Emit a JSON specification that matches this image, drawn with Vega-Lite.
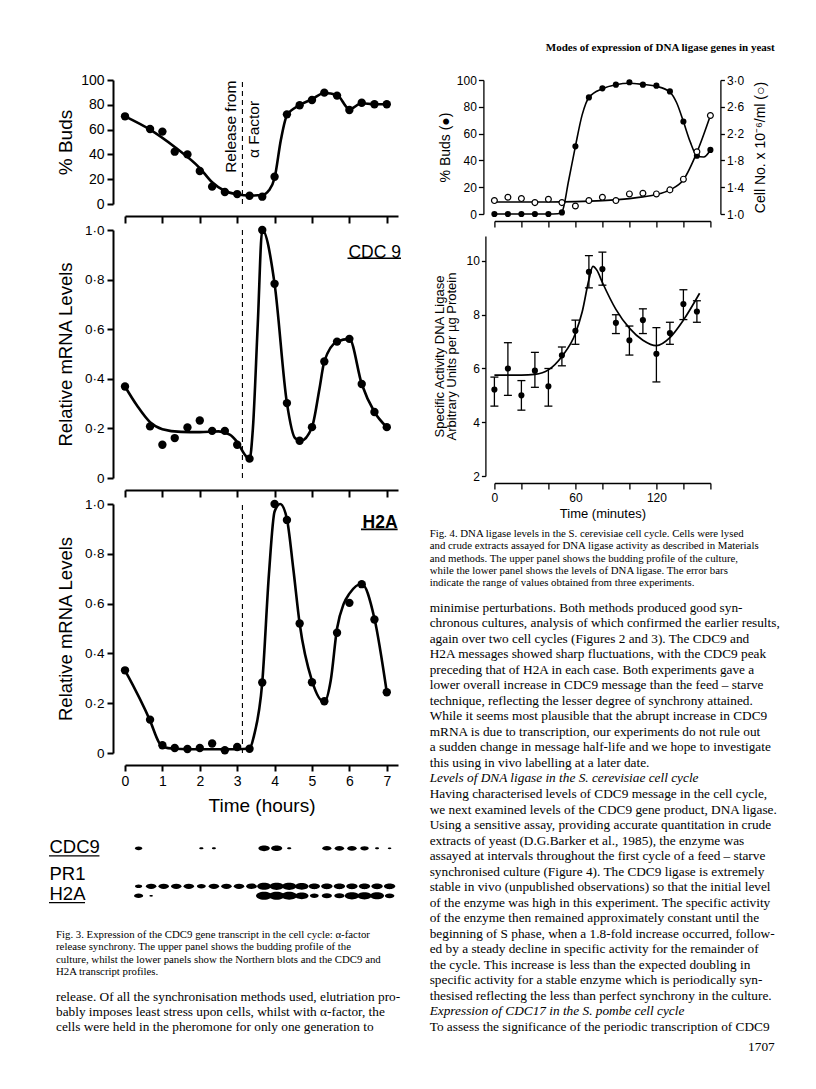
{
  "$schema": "https://vega.github.io/schema/vega-lite/v6.json",
  "background": "white",
  "padding": {"left": 48, "top": 42, "right": 2, "bottom": 2},
  "title": {"text": "Modes of expression of DNA ligase genes in yeast", "anchor": "end", "frame": "bounds", "font": "Liberation Serif", "fontSize": 11, "fontWeight": "bold", "color": "black", "offset": 20, "dx": -5},
  "config": {
    "view": {"stroke": null},
    "font": "Liberation Sans",
    "axis": {"grid": false, "domainColor": "black", "tickColor": "black", "labelColor": "black", "titleColor": "black", "labelFont": "Liberation Sans", "titleFont": "Liberation Sans", "titleFontWeight": "normal", "labelFlush": false, "labelOverlap": false}
  },
  "datasets": {
    "buds3": [{"t":0,"v":70.7},{"t":0.67,"v":60.5},{"t":1,"v":58.4},{"t":1.33,"v":42.2},{"t":1.67,"v":40},{"t":2,"v":26.6},{"t":2.33,"v":14},{"t":2.67,"v":9.7},{"t":3,"v":8},{"t":3.33,"v":6.7},{"t":3.67,"v":5.9},{"t":4,"v":22},{"t":4.33,"v":72.3},{"t":4.67,"v":79.6},{"t":5,"v":83.9},{"t":5.33,"v":89.8},{"t":5.67,"v":87.4},{"t":6,"v":75.8},{"t":6.33,"v":81.7},{"t":6.67,"v":80.4},{"t":7,"v":80.4}],
    "buds3Curve": [{"t":0,"v":70.7},{"t":0.67,"v":60},{"t":1.33,"v":46},{"t":2,"v":29},{"t":2.33,"v":17.5},{"t":2.67,"v":10.5},{"t":3,"v":7.8},{"t":3.33,"v":6.8},{"t":3.67,"v":7.2},{"t":3.85,"v":11},{"t":4,"v":21},{"t":4.17,"v":52},{"t":4.33,"v":71.5},{"t":4.67,"v":79.8},{"t":5,"v":84.5},{"t":5.33,"v":89.5},{"t":5.67,"v":88},{"t":6,"v":76.5},{"t":6.33,"v":81.2},{"t":6.67,"v":80.4},{"t":7,"v":80.4}],
    "releaseBuds": [{"t":3.14,"v":0,"v2":100}],
    "releaseMrna": [{"t":3.14,"v":0,"v2":1}],
    "budsNotes": [{"t":2.83,"v":62.3,"label":"Release from"},{"t":3.45,"v":60.1,"label":"α Factor"}],
    "cdc9Note": [{"t":7.38,"v":0.908,"label":"CDC 9"}],
    "cdc9Underline": [{"t":5.95,"t2":7.38,"v":0.886}],
    "h2aNote": [{"t":7.29,"v":0.925,"label":"H2A"}],
    "h2aUnderline": [{"t":6.31,"t2":7.29,"v":0.898}],
    "cdc9": [{"t":0,"v":0.369},{"t":0.67,"v":0.208},{"t":1,"v":0.134},{"t":1.33,"v":0.161},{"t":1.67,"v":0.204},{"t":2,"v":0.232},{"t":2.33,"v":0.19},{"t":2.67,"v":0.19},{"t":3,"v":0.134},{"t":3.33,"v":0.078},{"t":3.67,"v":1.0},{"t":4,"v":0.783},{"t":4.33,"v":0.302},{"t":4.67,"v":0.15},{"t":5,"v":0.205},{"t":5.33,"v":0.47},{"t":5.67,"v":0.55},{"t":6,"v":0.561},{"t":6.33,"v":0.379},{"t":6.67,"v":0.266},{"t":7,"v":0.205}],
    "cdc9Curve": [{"t":0,"v":0.369},{"t":0.33,"v":0.29},{"t":0.67,"v":0.225},{"t":1,"v":0.197},{"t":1.5,"v":0.186},{"t":2,"v":0.185},{"t":2.5,"v":0.188},{"t":2.8,"v":0.175},{"t":3,"v":0.145},{"t":3.2,"v":0.095},{"t":3.33,"v":0.075},{"t":3.42,"v":0.2},{"t":3.55,"v":0.62},{"t":3.67,"v":1.0},{"t":4,"v":0.783},{"t":4.33,"v":0.302},{"t":4.55,"v":0.16},{"t":4.7,"v":0.15},{"t":5,"v":0.205},{"t":5.2,"v":0.36},{"t":5.33,"v":0.47},{"t":5.67,"v":0.55},{"t":6,"v":0.561},{"t":6.33,"v":0.379},{"t":6.67,"v":0.266},{"t":7,"v":0.205}],
    "h2a": [{"t":0,"v":0.332},{"t":0.67,"v":0.134},{"t":1,"v":0.031},{"t":1.33,"v":0.02},{"t":1.67,"v":0.016},{"t":2,"v":0.02},{"t":2.33,"v":0.038},{"t":2.67,"v":0.011},{"t":3,"v":0.024},{"t":3.33,"v":0.017},{"t":3.67,"v":0.283},{"t":4,"v":1.0},{"t":4.33,"v":0.936},{"t":4.67,"v":0.52},{"t":5,"v":0.284},{"t":5.33,"v":0.208},{"t":5.67,"v":0.483},{"t":6,"v":0.603},{"t":6.33,"v":0.678},{"t":6.67,"v":0.536},{"t":7,"v":0.244}],
    "h2aCurve": [{"t":0,"v":0.332},{"t":0.67,"v":0.13},{"t":0.9,"v":0.045},{"t":1,"v":0.025},{"t":1.33,"v":0.017},{"t":2,"v":0.015},{"t":3,"v":0.015},{"t":3.33,"v":0.018},{"t":3.45,"v":0.07},{"t":3.67,"v":0.283},{"t":3.85,"v":0.72},{"t":4,"v":0.97},{"t":4.15,"v":1.0},{"t":4.33,"v":0.94},{"t":4.5,"v":0.74},{"t":4.67,"v":0.52},{"t":5,"v":0.29},{"t":5.33,"v":0.205},{"t":5.5,"v":0.29},{"t":5.67,"v":0.5},{"t":5.85,"v":0.6},{"t":6,"v":0.64},{"t":6.33,"v":0.68},{"t":6.67,"v":0.54},{"t":7,"v":0.244}],
    "blot": [
      {"lane":1,"probe":"CDC9","mobility":1,"signal":0.22},{"lane":6,"probe":"CDC9","mobility":1,"signal":0.07},{"lane":7,"probe":"CDC9","mobility":1,"signal":0.06},{"lane":11,"probe":"CDC9","mobility":1,"signal":0.5},{"lane":12,"probe":"CDC9","mobility":1,"signal":0.48},{"lane":13,"probe":"CDC9","mobility":1,"signal":0.07},{"lane":16,"probe":"CDC9","mobility":1,"signal":0.32},{"lane":17,"probe":"CDC9","mobility":1,"signal":0.34},{"lane":18,"probe":"CDC9","mobility":1,"signal":0.34},{"lane":19,"probe":"CDC9","mobility":1,"signal":0.28},{"lane":20,"probe":"CDC9","mobility":1,"signal":0.06},{"lane":21,"probe":"CDC9","mobility":1,"signal":0.05},
      {"lane":1,"probe":"PR1","mobility":2,"signal":0.2},{"lane":2,"probe":"PR1","mobility":2,"signal":0.42},{"lane":3,"probe":"PR1","mobility":2,"signal":0.42},{"lane":4,"probe":"PR1","mobility":2,"signal":0.42},{"lane":5,"probe":"PR1","mobility":2,"signal":0.42},{"lane":6,"probe":"PR1","mobility":2,"signal":0.3},{"lane":7,"probe":"PR1","mobility":2,"signal":0.42},{"lane":8,"probe":"PR1","mobility":2,"signal":0.42},{"lane":9,"probe":"PR1","mobility":2,"signal":0.42},{"lane":10,"probe":"PR1","mobility":2,"signal":0.45},{"lane":11,"probe":"PR1","mobility":2,"signal":0.75},{"lane":12,"probe":"PR1","mobility":2,"signal":0.8},{"lane":13,"probe":"PR1","mobility":2,"signal":0.8},{"lane":14,"probe":"PR1","mobility":2,"signal":0.7},{"lane":15,"probe":"PR1","mobility":2,"signal":0.5},{"lane":16,"probe":"PR1","mobility":2,"signal":0.5},{"lane":17,"probe":"PR1","mobility":2,"signal":0.5},{"lane":18,"probe":"PR1","mobility":2,"signal":0.5},{"lane":19,"probe":"PR1","mobility":2,"signal":0.5},{"lane":20,"probe":"PR1","mobility":2,"signal":0.5},{"lane":21,"probe":"PR1","mobility":2,"signal":0.5},
      {"lane":1,"probe":"H2A","mobility":2.25,"signal":0.32},{"lane":2,"probe":"H2A","mobility":2.25,"signal":0.05},{"lane":11,"probe":"H2A","mobility":2.25,"signal":1.0},{"lane":12,"probe":"H2A","mobility":2.25,"signal":1.0},{"lane":13,"probe":"H2A","mobility":2.25,"signal":0.95},{"lane":14,"probe":"H2A","mobility":2.25,"signal":0.7},{"lane":15,"probe":"H2A","mobility":2.25,"signal":0.3},{"lane":16,"probe":"H2A","mobility":2.25,"signal":0.4},{"lane":17,"probe":"H2A","mobility":2.25,"signal":0.4},{"lane":18,"probe":"H2A","mobility":2.25,"signal":0.8},{"lane":19,"probe":"H2A","mobility":2.25,"signal":0.8},{"lane":20,"probe":"H2A","mobility":2.25,"signal":0.75},{"lane":21,"probe":"H2A","mobility":2.25,"signal":0.35}
    ],
    "blotUnderline": [{"lane":-6.14,"lane2":-2.12,"mobility":1.2},{"lane":-6.14,"lane2":-3.27,"mobility":2.43}],
    "cap3": [
      {"line":1,"text":"Fig. 3. Expression of the CDC9 gene transcript in the cell cycle: α-factor"},
      {"line":2,"text":"release synchrony. The upper panel shows the budding profile of the"},
      {"line":3,"text":"culture, whilst the lower panels show the Northern blots and the CDC9 and"},
      {"line":4,"text":"H2A transcript profiles."}
    ],
    "body3": [
      {"line":1,"text":"release. Of all the synchronisation methods used, elutriation pro-"},
      {"line":2,"text":"bably imposes least stress upon cells, whilst with α-factor, the"},
      {"line":3,"text":"cells were held in the pheromone for only one generation to"}
    ],
    "f4": [{"t":0,"buds":0,"cells":1.2},{"t":10,"buds":0,"cells":1.25},{"t":20,"buds":0,"cells":1.23},{"t":30,"buds":0,"cells":1.17},{"t":40,"buds":0,"cells":1.22},{"t":50,"buds":1.2,"cells":1.17},{"t":60,"buds":50.5,"cells":1.12},{"t":70,"buds":87,"cells":1.2},{"t":80,"buds":93.8,"cells":1.25},{"t":90,"buds":96.5,"cells":1.2},{"t":100,"buds":98.3,"cells":1.3},{"t":110,"buds":96.5,"cells":1.31},{"t":120,"buds":95.8,"cells":1.3},{"t":130,"buds":91.5,"cells":1.36},{"t":140,"buds":69,"cells":1.52},{"t":150,"buds":43.5,"cells":1.93},{"t":160,"buds":47.8,"cells":2.47}],
    "f4BudsCurve": [{"t":0,"buds":0},{"t":40,"buds":0},{"t":47,"buds":0.2},{"t":50,"buds":1.5},{"t":55,"buds":25},{"t":60,"buds":50.5},{"t":65,"buds":74},{"t":70,"buds":87},{"t":80,"buds":93.5},{"t":90,"buds":96.5},{"t":100,"buds":97.6},{"t":110,"buds":96.7},{"t":120,"buds":95.3},{"t":130,"buds":91},{"t":135,"buds":83},{"t":140,"buds":69},{"t":145,"buds":54},{"t":150,"buds":43.5},{"t":155,"buds":42.5},{"t":160,"buds":47.8}],
    "f4CellsCurve": [{"t":0,"cells":1.18},{"t":40,"cells":1.18},{"t":60,"cells":1.185},{"t":80,"cells":1.2},{"t":100,"cells":1.23},{"t":110,"cells":1.255},{"t":120,"cells":1.29},{"t":130,"cells":1.36},{"t":140,"cells":1.51},{"t":150,"cells":1.92},{"t":160,"cells":2.47}],
    "ligase": [{"t":0,"v":5.22,"lo":4.6,"hi":5.68},{"t":10,"v":6.0,"lo":5.0,"hi":6.96},{"t":20,"v":5.0,"lo":4.45,"hi":5.55},{"t":30,"v":5.92,"lo":5.3,"hi":6.6},{"t":40,"v":5.34,"lo":4.6,"hi":6.0},{"t":50,"v":6.49,"lo":6.1,"hi":6.8},{"t":60,"v":7.4,"lo":6.9,"hi":7.8},{"t":70,"v":9.6,"lo":9.0,"hi":10.2},{"t":80,"v":9.7,"lo":9.1,"hi":10.33},{"t":90,"v":7.7,"lo":7.3,"hi":8.0},{"t":100,"v":7.05,"lo":6.5,"hi":7.58},{"t":110,"v":7.8,"lo":7.3,"hi":8.22},{"t":120,"v":6.55,"lo":5.5,"hi":7.52},{"t":130,"v":7.32,"lo":6.9,"hi":7.72},{"t":140,"v":8.4,"lo":7.82,"hi":8.93},{"t":150,"v":8.12,"lo":7.72,"hi":8.52}],
    "ligaseCurve": [{"t":0,"v":5.75},{"t":20,"v":5.75},{"t":30,"v":5.78},{"t":40,"v":5.95},{"t":50,"v":6.45},{"t":60,"v":7.3},{"t":65,"v":8.1},{"t":70,"v":9.3},{"t":73,"v":9.8},{"t":76,"v":9.65},{"t":80,"v":9.2},{"t":90,"v":8.2},{"t":100,"v":7.5},{"t":110,"v":7.05},{"t":120,"v":6.85},{"t":130,"v":7.15},{"t":140,"v":7.8},{"t":152,"v":8.8}],
    "cap4": [
      {"line":1,"text":"Fig. 4. DNA ligase levels in the S. cerevisiae cell cycle. Cells were lysed"},
      {"line":2,"text":"and crude extracts assayed for DNA ligase activity as described in Materials"},
      {"line":3,"text":"and methods. The upper panel shows the budding profile of the culture,"},
      {"line":4,"text":"while the lower panel shows the levels of DNA ligase. The error bars"},
      {"line":5,"text":"indicate the range of values obtained from three experiments."}
    ],
    "body4": [
      {"line":1,"kind":"body","text":"minimise perturbations. Both methods produced good syn-"},
      {"line":2,"kind":"body","text":"chronous cultures, analysis of which confirmed the earlier results,"},
      {"line":3,"kind":"body","text":"again over two cell cycles (Figures 2 and 3). The CDC9 and"},
      {"line":4,"kind":"body","text":"H2A messages showed sharp fluctuations, with the CDC9 peak"},
      {"line":5,"kind":"body","text":"preceding that of H2A in each case. Both experiments gave a"},
      {"line":6,"kind":"body","text":"lower overall increase in CDC9 message than the feed – starve"},
      {"line":7,"kind":"body","text":"technique, reflecting the lesser degree of synchrony attained."},
      {"line":8,"kind":"body","text":"While it seems most plausible that the abrupt increase in CDC9"},
      {"line":9,"kind":"body","text":"mRNA is due to transcription, our experiments do not rule out"},
      {"line":10,"kind":"body","text":"a sudden change in message half-life and we hope to investigate"},
      {"line":11,"kind":"body","text":"this using in vivo labelling at a later date."},
      {"line":12,"kind":"heading","text":"Levels of DNA ligase in the S. cerevisiae cell cycle"},
      {"line":13,"kind":"body","text":"Having characterised levels of CDC9 message in the cell cycle,"},
      {"line":14,"kind":"body","text":"we next examined levels of the CDC9 gene product, DNA ligase."},
      {"line":15,"kind":"body","text":"Using a sensitive assay, providing accurate quantitation in crude"},
      {"line":16,"kind":"body","text":"extracts of yeast (D.G.Barker et al., 1985), the enzyme was"},
      {"line":17,"kind":"body","text":"assayed at intervals throughout the first cycle of a feed – starve"},
      {"line":18,"kind":"body","text":"synchronised culture (Figure 4). The CDC9 ligase is extremely"},
      {"line":19,"kind":"body","text":"stable in vivo (unpublished observations) so that the initial level"},
      {"line":20,"kind":"body","text":"of the enzyme was high in this experiment. The specific activity"},
      {"line":21,"kind":"body","text":"of the enzyme then remained approximately constant until the"},
      {"line":22,"kind":"body","text":"beginning of S phase, when a 1.8-fold increase occurred, follow-"},
      {"line":23,"kind":"body","text":"ed by a steady decline in specific activity for the remainder of"},
      {"line":24,"kind":"body","text":"the cycle. This increase is less than the expected doubling in"},
      {"line":25,"kind":"body","text":"specific activity for a stable enzyme which is periodically syn-"},
      {"line":26,"kind":"body","text":"thesised reflecting the less than perfect synchrony in the culture."},
      {"line":27,"kind":"heading","text":"Expression of CDC17 in the S. pombe cell cycle"},
      {"line":28,"kind":"body","text":"To assess the significance of the periodic transcription of CDC9"},
      {"line":29,"kind":"page","text":"1707"}
    ]
  },
  "spacing": 27.4,
  "hconcat": [
    {
      "spacing": 26,
      "bounds": "flush",
      "vconcat": [
        {
          "width": 273, "height": 124,
          "encoding": {
            "x": {"field": "t", "type": "quantitative", "scale": {"domain": [0, 7.3], "nice": false}, "axis": {"values": [0,1,2,3,4,5,6,7], "labelExpr": "''", "title": null, "offset": 12, "tickSize": 7, "domainWidth": 2, "tickWidth": 2}},
            "y": {"field": "v", "type": "quantitative", "scale": {"domain": [0, 100], "nice": false}, "axis": {"values": [0,20,40,60,80,100], "title": "% Buds", "offset": 12, "tickSize": 6, "labelPadding": 3, "labelFontSize": 14, "titleFontSize": 19, "titlePadding": 5, "domainWidth": 2, "tickWidth": 2}}
          },
          "layer": [
            {"data": {"name": "releaseBuds"}, "mark": {"type": "rule", "strokeDash": [5, 4], "strokeWidth": 1.1, "color": "black"}, "encoding": {"y2": {"field": "v2"}}},
            {"data": {"name": "buds3Curve"}, "mark": {"type": "line", "interpolate": "monotone", "color": "black", "strokeWidth": 2.6}},
            {"data": {"name": "buds3"}, "mark": {"type": "circle", "size": 70, "color": "black", "opacity": 1}},
            {"data": {"name": "budsNotes"}, "mark": {"type": "text", "angle": 270, "align": "center", "baseline": "middle", "fontSize": 15.5, "color": "black"}, "encoding": {"text": {"field": "label"}}}
          ]
        },
        {
          "width": 273, "height": 248,
          "encoding": {
            "x": {"field": "t", "type": "quantitative", "scale": {"domain": [0, 7.3], "nice": false}, "axis": {"values": [0,1,2,3,4,5,6,7], "labelExpr": "''", "title": null, "offset": 12, "tickSize": 7, "domainWidth": 2, "tickWidth": 2}},
            "y": {"field": "v", "type": "quantitative", "scale": {"domain": [0, 1], "nice": false}, "axis": {"values": [0,0.2,0.4,0.6,0.8,1], "labelExpr": "datum.value == 0 ? '0' : replace(format(datum.value, '.1f'), '.', '·')", "title": "Relative mRNA Levels", "offset": 12, "tickSize": 6, "labelPadding": 3, "labelFontSize": 13.5, "titleFontSize": 18.5, "titlePadding": 9, "domainWidth": 2, "tickWidth": 2}}
          },
          "layer": [
            {"data": {"name": "releaseMrna"}, "mark": {"type": "rule", "strokeDash": [5, 4], "strokeWidth": 1.1, "color": "black"}, "encoding": {"y2": {"field": "v2"}}},
            {"data": {"name": "cdc9Curve"}, "mark": {"type": "line", "interpolate": "monotone", "color": "black", "strokeWidth": 2.6}},
            {"data": {"name": "cdc9"}, "mark": {"type": "circle", "size": 70, "color": "black", "opacity": 1}},
            {"data": {"name": "cdc9Note"}, "mark": {"type": "text", "align": "right", "baseline": "middle", "fontSize": 17.5, "color": "black"}, "encoding": {"text": {"field": "label"}}},
            {"data": {"name": "cdc9Underline"}, "mark": {"type": "rule", "strokeWidth": 1.6, "color": "black"}, "encoding": {"x2": {"field": "t2"}}}
          ]
        },
        {
          "width": 273, "height": 249,
          "encoding": {
            "x": {"field": "t", "type": "quantitative", "scale": {"domain": [0, 7.3], "nice": false}, "axis": {"values": [0,1,2,3,4,5,6,7], "title": "Time (hours)", "offset": 12, "tickSize": 6, "labelPadding": 3, "labelFontSize": 14, "titleFontSize": 19, "titlePadding": 8, "domainWidth": 2, "tickWidth": 2}},
            "y": {"field": "v", "type": "quantitative", "scale": {"domain": [0, 1], "nice": false}, "axis": {"values": [0,0.2,0.4,0.6,0.8,1], "labelExpr": "datum.value == 0 ? '0' : replace(format(datum.value, '.1f'), '.', '·')", "title": "Relative mRNA Levels", "offset": 12, "tickSize": 6, "labelPadding": 3, "labelFontSize": 13.5, "titleFontSize": 18.5, "titlePadding": 9, "domainWidth": 2, "tickWidth": 2}}
          },
          "layer": [
            {"data": {"name": "releaseMrna"}, "mark": {"type": "rule", "strokeDash": [5, 4], "strokeWidth": 1.1, "color": "black"}, "encoding": {"y2": {"field": "v2"}}},
            {"data": {"name": "h2aCurve"}, "mark": {"type": "line", "interpolate": "monotone", "color": "black", "strokeWidth": 2.6}},
            {"data": {"name": "h2a"}, "mark": {"type": "circle", "size": 70, "color": "black", "opacity": 1}},
            {"data": {"name": "h2aNote"}, "mark": {"type": "text", "align": "right", "baseline": "middle", "fontSize": 17.5, "fontWeight": "bold", "color": "black"}, "encoding": {"text": {"field": "label"}}},
            {"data": {"name": "h2aUnderline"}, "mark": {"type": "rule", "strokeWidth": 1.6, "color": "black"}, "encoding": {"x2": {"field": "t2"}}}
          ]
        },
        {
          "width": 273, "height": 123.9,
          "encoding": {
            "x": {"field": "lane", "type": "quantitative", "scale": {"domain": [-0.084, 21.67], "nice": false, "zero": false}, "axis": null},
            "y": {"field": "mobility", "type": "quantitative", "scale": {"domain": [-0.824, 2.437], "nice": false, "zero": false, "reverse": true}, "axis": {"values": [0.96, 1.66, 2.18], "labelExpr": "datum.value < 1.3 ? 'CDC9' : (datum.value < 2 ? 'PR1' : 'H2A')", "ticks": false, "tickSize": 0, "domain": false, "labelAlign": "left", "labelBaseline": "middle", "labelPadding": 76, "labelFontSize": 18.5, "title": null}}
          },
          "layer": [
            {"data": {"name": "blot"}, "mark": {"type": "point", "shape": "M-1,0A1,0.5,0,1,0,1,0A1,0.5,0,1,0,-1,0Z", "filled": true, "color": "black", "opacity": 1}, "encoding": {"size": {"field": "signal", "type": "quantitative", "scale": {"domain": [0, 1], "range": [0, 260]}, "legend": null}}},
            {"data": {"name": "blotUnderline"}, "mark": {"type": "rule", "strokeWidth": 1.4, "color": "black"}, "encoding": {"x2": {"field": "lane2"}}}
          ]
        },
        {
          "width": 273, "height": 33.6,
          "data": {"name": "cap3"},
          "mark": {"type": "text", "align": "left", "baseline": "middle", "font": "Liberation Serif", "fontSize": 10.8, "color": "black"},
          "encoding": {
            "x": {"datum": 0, "type": "quantitative", "scale": {"domain": [69, 342], "nice": false, "zero": false}, "axis": null},
            "y": {"field": "line", "type": "quantitative", "scale": {"domain": [0.5, 3.254], "nice": false, "zero": false, "reverse": true}, "axis": null},
            "text": {"field": "text"}
          }
        },
        {
          "width": 273, "height": 45,
          "data": {"name": "body3"},
          "mark": {"type": "text", "align": "left", "baseline": "middle", "font": "Liberation Serif", "fontSize": 13.3, "color": "black"},
          "encoding": {
            "x": {"datum": 0, "type": "quantitative", "scale": {"domain": [69, 342], "nice": false, "zero": false}, "axis": null},
            "y": {"field": "line", "type": "quantitative", "scale": {"domain": [0.5, 3.5], "nice": false, "zero": false, "reverse": true}, "axis": null},
            "text": {"field": "text"}
          }
        }
      ]
    },
    {
      "spacing": 22,
      "bounds": "flush",
      "vconcat": [
        {
          "width": 216, "height": 134,
          "encoding": {
            "x": {"field": "t", "type": "quantitative", "scale": {"domain": [0, 160], "nice": false}, "axis": {"values": [0,20,40,60,80,100,120,140,160], "labelExpr": "''", "title": null, "offset": 7, "tickSize": 6, "domainWidth": 1.3, "tickWidth": 1.3}}
          },
          "layer": [
            {
              "encoding": {"y": {"field": "buds", "type": "quantitative", "scale": {"domain": [0, 100], "nice": false}, "axis": {"values": [0,20,40,60,80,100], "title": "% Buds  (●)", "offset": 11, "tickSize": 5, "labelPadding": 2, "labelFontSize": 12, "titleFontSize": 14, "titlePadding": 4, "domainWidth": 1.3, "tickWidth": 1.3}}},
              "layer": [
                {"data": {"name": "f4BudsCurve"}, "mark": {"type": "line", "interpolate": "monotone", "color": "black", "strokeWidth": 1.6}},
                {"data": {"name": "f4"}, "mark": {"type": "circle", "size": 38, "color": "black", "opacity": 1}}
              ]
            },
            {
              "encoding": {"y": {"field": "cells", "type": "quantitative", "scale": {"domain": [1, 3], "nice": false, "zero": false}, "axis": {"orient": "right", "values": [1,1.4,1.8,2.2,2.6,3], "labelExpr": "replace(format(datum.value, '.1f'), '.', '·')", "title": "Cell No. x 10⁻⁶/ml  (○)", "titleAngle": 270, "titleBaseline": "top", "offset": 10, "tickSize": 4, "labelPadding": 2, "labelFontSize": 12, "titleFontSize": 14, "titlePadding": 10, "domainWidth": 1.3, "tickWidth": 1.3}}},
              "layer": [
                {"data": {"name": "f4CellsCurve"}, "mark": {"type": "line", "interpolate": "monotone", "color": "black", "strokeWidth": 1.6}},
                {"data": {"name": "f4"}, "mark": {"type": "point", "shape": "circle", "size": 34, "filled": true, "fill": "white", "stroke": "black", "strokeWidth": 1.2, "opacity": 1}}
              ]
            }
          ],
          "resolve": {"scale": {"y": "independent"}}
        },
        {
          "width": 216, "height": 240,
          "encoding": {
            "x": {"field": "t", "type": "quantitative", "scale": {"domain": [0, 160], "nice": false}, "axis": {"values": [0,20,40,60,80,100,120,140,160], "labelExpr": "datum.value % 60 === 0 ? datum.label : ''", "title": "Time (minutes)", "offset": 7, "tickSize": 6, "labelPadding": 3, "labelFontSize": 12, "titleFontSize": 13, "titlePadding": 4, "domainWidth": 1.3, "tickWidth": 1.3}}
          },
          "layer": [
            {"data": {"name": "ligaseCurve"}, "mark": {"type": "line", "interpolate": "monotone", "color": "black", "strokeWidth": 1.7}, "encoding": {"y": {"field": "v", "type": "quantitative", "scale": {"domain": [2, 10.93], "nice": false, "zero": false}, "axis": {"values": [2,4,6,8,10], "title": ["Specific Activity DNA Ligase", "Arbitrary Units per µg Protein"], "offset": 9, "tickSize": 4, "labelPadding": 2, "labelFontSize": 12, "titleFontSize": 13, "titleLineHeight": 12, "titlePadding": 8, "domainWidth": 1.3, "tickWidth": 1.3}}}},
            {"data": {"name": "ligase"}, "mark": {"type": "rule", "color": "black", "strokeWidth": 1.3}, "encoding": {"y": {"field": "lo", "type": "quantitative", "scale": {"domain": [2, 10.93], "nice": false, "zero": false}, "axis": {"values": [2,4,6,8,10], "title": ["Specific Activity DNA Ligase", "Arbitrary Units per µg Protein"], "offset": 9, "tickSize": 4, "labelPadding": 2, "labelFontSize": 12, "titleFontSize": 13, "titleLineHeight": 12, "titlePadding": 8, "domainWidth": 1.3, "tickWidth": 1.3}}, "y2": {"field": "hi"}}},
            {"data": {"name": "ligase"}, "mark": {"type": "tick", "orient": "horizontal", "thickness": 1.3, "color": "black", "opacity": 1}, "encoding": {"y": {"field": "lo", "type": "quantitative", "scale": {"domain": [2, 10.93], "nice": false, "zero": false}, "axis": {"values": [2,4,6,8,10], "title": ["Specific Activity DNA Ligase", "Arbitrary Units per µg Protein"], "offset": 9, "tickSize": 4, "labelPadding": 2, "labelFontSize": 12, "titleFontSize": 13, "titleLineHeight": 12, "titlePadding": 8, "domainWidth": 1.3, "tickWidth": 1.3}}, "size": {"value": 8}}},
            {"data": {"name": "ligase"}, "mark": {"type": "tick", "orient": "horizontal", "thickness": 1.3, "color": "black", "opacity": 1}, "encoding": {"y": {"field": "hi", "type": "quantitative", "scale": {"domain": [2, 10.93], "nice": false, "zero": false}, "axis": {"values": [2,4,6,8,10], "title": ["Specific Activity DNA Ligase", "Arbitrary Units per µg Protein"], "offset": 9, "tickSize": 4, "labelPadding": 2, "labelFontSize": 12, "titleFontSize": 13, "titleLineHeight": 12, "titlePadding": 8, "domainWidth": 1.3, "tickWidth": 1.3}}, "size": {"value": 8}}},
            {"data": {"name": "ligase"}, "mark": {"type": "circle", "size": 38, "color": "black", "opacity": 1}, "encoding": {"y": {"field": "v", "type": "quantitative", "scale": {"domain": [2, 10.93], "nice": false, "zero": false}, "axis": {"values": [2,4,6,8,10], "title": ["Specific Activity DNA Ligase", "Arbitrary Units per µg Protein"], "offset": 9, "tickSize": 4, "labelPadding": 2, "labelFontSize": 12, "titleFontSize": 13, "titleLineHeight": 12, "titlePadding": 8, "domainWidth": 1.3, "tickWidth": 1.3}}}}
          ]
        },
        {
          "width": 216, "height": 79.6,
          "data": {"name": "cap4"},
          "mark": {"type": "text", "align": "left", "baseline": "middle", "font": "Liberation Serif", "fontSize": 10.8, "color": "black"},
          "encoding": {
            "x": {"datum": 0, "type": "quantitative", "scale": {"domain": [64.7, 280.7], "nice": false, "zero": false}, "axis": null},
            "y": {"field": "line", "type": "quantitative", "scale": {"domain": [-1.915, 4.53], "nice": false, "zero": false, "reverse": true}, "axis": null},
            "text": {"field": "text"}
          }
        },
        {
          "width": 216, "height": 434.6,
          "data": {"name": "body4"},
          "encoding": {
            "y": {"field": "line", "type": "quantitative", "scale": {"domain": [0.5, 28.5], "nice": false, "zero": false, "reverse": true}, "axis": null},
            "text": {"field": "text"}
          },
          "layer": [
            {"transform": [{"filter": "datum.kind === 'body'"}], "mark": {"type": "text", "align": "left", "baseline": "middle", "font": "Liberation Serif", "fontSize": 13.3, "color": "black"}, "encoding": {"x": {"datum": 0, "type": "quantitative", "scale": {"domain": [64.7, 280.7], "nice": false, "zero": false}, "axis": null}}},
            {"transform": [{"filter": "datum.kind === 'heading'"}], "mark": {"type": "text", "align": "left", "baseline": "middle", "font": "Liberation Serif", "fontSize": 13.3, "fontStyle": "italic", "color": "black"}, "encoding": {"x": {"datum": 0, "type": "quantitative", "scale": {"domain": [64.7, 280.7], "nice": false, "zero": false}, "axis": null}}},
            {"transform": [{"filter": "datum.kind === 'page'"}], "mark": {"type": "text", "align": "right", "baseline": "middle", "font": "Liberation Serif", "fontSize": 13.3, "dy": 5, "color": "black"}, "encoding": {"x": {"datum": 345, "type": "quantitative", "scale": {"domain": [64.7, 280.7], "nice": false, "zero": false}, "axis": null}}}
          ]
        }
      ]
    }
  ]
}
